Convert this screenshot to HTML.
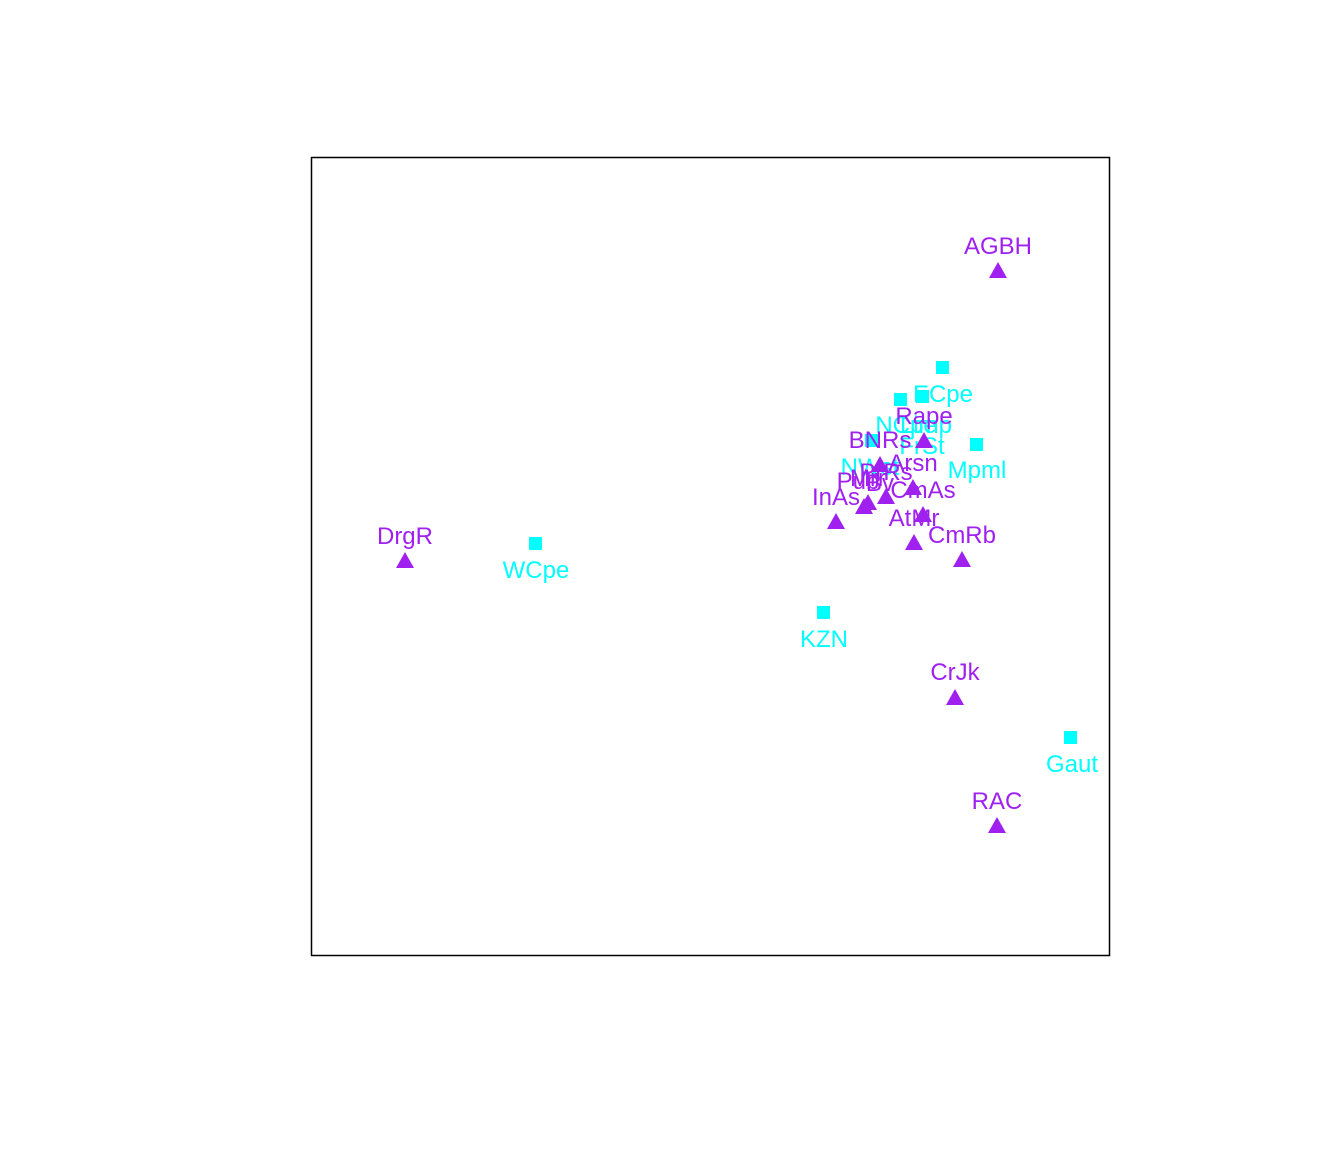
<!DOCTYPE html>
<html><head><meta charset="utf-8"><style>html,body{margin:0;padding:0;background:#fff}svg{display:block}</style></head>
<body>
<svg width="1344" height="1152" xmlns="http://www.w3.org/2000/svg" font-family="Liberation Sans, Arial, sans-serif" font-size="24" text-anchor="middle">
<rect x="311.5" y="157.5" width="798" height="798" fill="none" stroke="#000" stroke-width="1.5"/>
<g fill="#00FFFF">
<rect x="936" y="361" width="13" height="13"/>
<rect x="894" y="393" width="13" height="13"/>
<rect x="916" y="390" width="13" height="13"/>
<rect x="970" y="438" width="13" height="13"/>
<rect x="865" y="434" width="13" height="13"/>
<rect x="529" y="537" width="13" height="13"/>
<rect x="817" y="606" width="13" height="13"/>
<rect x="1064" y="731" width="13" height="13"/>
<text x="943" y="402">ECpe</text>
<text x="906" y="433">NCpe</text>
<text x="926" y="433">Limp</text>
<text x="922" y="454">FrSt</text>
<text x="977" y="478">Mpml</text>
<text x="870" y="475">NWst</text>
<text x="536" y="578">WCpe</text>
<text x="824" y="647">KZN</text>
<text x="1072" y="772">Gaut</text>
</g>
<g fill="#A020F0">
<path d="M998,262 l-9,16 h18z"/>
<path d="M924,432 l-9,16 h18z"/>
<path d="M880,456 l-9,16 h18z"/>
<path d="M913,479 l-9,16 h18z"/>
<path d="M923,506 l-9,16 h18z"/>
<path d="M836,513 l-9,16 h18z"/>
<path d="M914,534 l-9,16 h18z"/>
<path d="M962,551 l-9,16 h18z"/>
<path d="M405,552 l-9,16 h18z"/>
<path d="M955,689 l-9,16 h18z"/>
<path d="M997,817 l-9,16 h18z"/>
<path d="M864,498 l-9,16 h18z"/>
<path d="M868,494 l-9,16 h18z"/>
<path d="M886,488 l-9,16 h18z"/>
<text x="998" y="254">AGBH</text>
<text x="924" y="424">Rape</text>
<text x="880" y="448">BNRs</text>
<text x="913" y="471">Arsn</text>
<text x="923" y="498">CmAs</text>
<text x="836" y="505">InAs</text>
<text x="914" y="526">AtMr</text>
<text x="962" y="543">CmRb</text>
<text x="405" y="544">DrgR</text>
<text x="955" y="680">CrJk</text>
<text x="997" y="809">RAC</text>
<text x="858" y="489">Pub</text>
<text x="868" y="486">Mrr</text>
<text x="886" y="480">PrRs</text>
<text x="880" y="491">Bv</text>
</g>
</svg>
</body></html>
